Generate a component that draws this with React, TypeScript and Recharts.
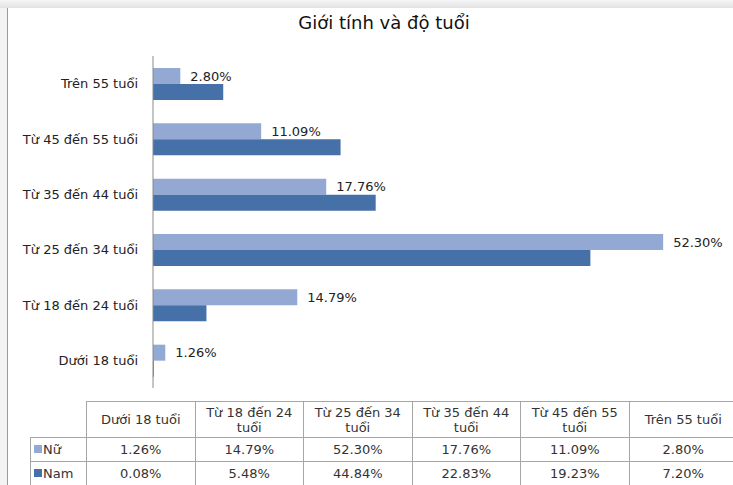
import { BarChart, Bar, XAxis, YAxis, LabelList } from 'recharts';

// categories in table order (bottom of chart first)
const categories = [
  'Dưới 18 tuổi',
  'Từ 18 đến 24 tuổi',
  'Từ 25 đến 34 tuổi',
  'Từ 35 đến 44 tuổi',
  'Từ 45 đến 55 tuổi',
  'Trên 55 tuổi',
];
// header labels for the data table
const tableHeaders = [
  'Dưới 18 tuổi',
  'Từ 18 đến 24 tuổi',
  'Từ 25 đến 34 tuổi',
  'Từ 35 đến 44 tuổi',
  'Từ 45 đến 55 tuổi',
  'Trên 55 tuổi',
];
const nu = [1.26, 14.79, 52.3, 17.76, 11.09, 2.8];
const nam = [0.08, 5.48, 44.84, 22.83, 19.23, 7.2];

const NU_COLOR = '#93a8d2';
const NAM_COLOR = '#4670a8';
const FONT = '"DejaVu Sans", Verdana, sans-serif';

const rows = categories.map((name, i) => ({ name, nu: nu[i], nam: nam[i] }));

const pct = (v: number) => v.toFixed(2) + '%';

const cellBorder = '1px solid #a6a6a6';

const DataTable = () => {
  const cell: React.CSSProperties = {
    border: cellBorder,
    textAlign: 'center',
    padding: 0,
    fontSize: 13,
    color: '#333',
  };
  const series = [
    { name: 'Nữ', color: NU_COLOR, values: nu },
    { name: 'Nam', color: NAM_COLOR, values: nam },
  ];
  return (
    <table
      style={{
        position: 'absolute',
        left: 30,
        top: 401,
        borderCollapse: 'collapse',
        tableLayout: 'fixed',
        fontFamily: FONT,
        width: 707,
      }}
    >
      <colgroup>
        <col style={{ width: 56 }} />
        {tableHeaders.map((h) => (
          <col key={h} style={{ width: 108.5 }} />
        ))}
      </colgroup>
      <tbody>
        <tr style={{ height: 36 }}>
          <td style={{ ...cell, border: 'none' }} />
          {tableHeaders.map((h) => (
            <td key={h} style={{ ...cell, lineHeight: '15px', padding: '0 8px' }}>
              {h}
            </td>
          ))}
        </tr>
        {series.map((s) => (
          <tr key={s.name} style={{ height: 24 }}>
            <td style={{ ...cell, textAlign: 'left', paddingLeft: 3 }}>
              <span
                style={{
                  display: 'inline-block',
                  width: 8,
                  height: 8,
                  background: s.color,
                  marginRight: 1,
                  verticalAlign: 'middle',
                  position: 'relative',
                  top: -2,
                }}
              />
              {s.name}
            </td>
            {s.values.map((v, i) => (
              <td key={i} style={cell}>
                {pct(v)}
              </td>
            ))}
          </tr>
        ))}
      </tbody>
    </table>
  );
};

const App = () => {
  return (
    <div
      style={{
        position: 'fixed',
        left: 0,
        top: 0,
        width: 733,
        height: 485,
        overflow: 'hidden',
        background: '#fff',
        fontFamily: FONT,
      }}
    >
      {/* window frame */}
      <div
        style={{
          position: 'absolute',
          left: 0,
          top: 0,
          width: 733,
          height: 8,
          background: 'linear-gradient(#f6f6f6, #e2e2e2)',
        }}
      />
      <div
        style={{
          position: 'absolute',
          left: 0,
          top: 8,
          width: 7,
          height: 477,
          background: '#f3f3f3',
          borderRight: '1px solid #9a9a9a',
        }}
      />
      <div
        style={{
          position: 'absolute',
          top: 12,
          left: 0,
          width: 768,
          textAlign: 'center',
          fontSize: 18,
          color: '#111',
        }}
      >
        Giới tính và độ tuổi
      </div>
      <div style={{ position: 'absolute', left: 0, top: 0 }}>
        <BarChart
          width={733}
          height={485}
          data={rows}
          layout='vertical'
          barSize={16}
          barGap={0}
          margin={{ top: 56, right: 24, left: 8, bottom: 97 }}
        >
          <XAxis type='number' domain={[0, 57]} hide />
          <YAxis
            type='category'
            dataKey='name'
            reversed
            width={145}
            tickLine={false}
            tickMargin={9}
            axisLine={{ stroke: '#8a8a8a' }}
            tick={{ fill: '#222', fontSize: 13, fontFamily: FONT }}
          />
          <Bar dataKey='nu' fill={NU_COLOR} isAnimationActive={false}>
            <LabelList
              dataKey='nu'
              position='right'
              offset={10}
              formatter={(v: any) => pct(Number(v))}
              style={{ fill: '#222', fontSize: 13, fontFamily: FONT }}
            />
          </Bar>
          <Bar dataKey='nam' fill={NAM_COLOR} isAnimationActive={false} />
        </BarChart>
      </div>
      <DataTable />
    </div>
  );
};

export default App;
